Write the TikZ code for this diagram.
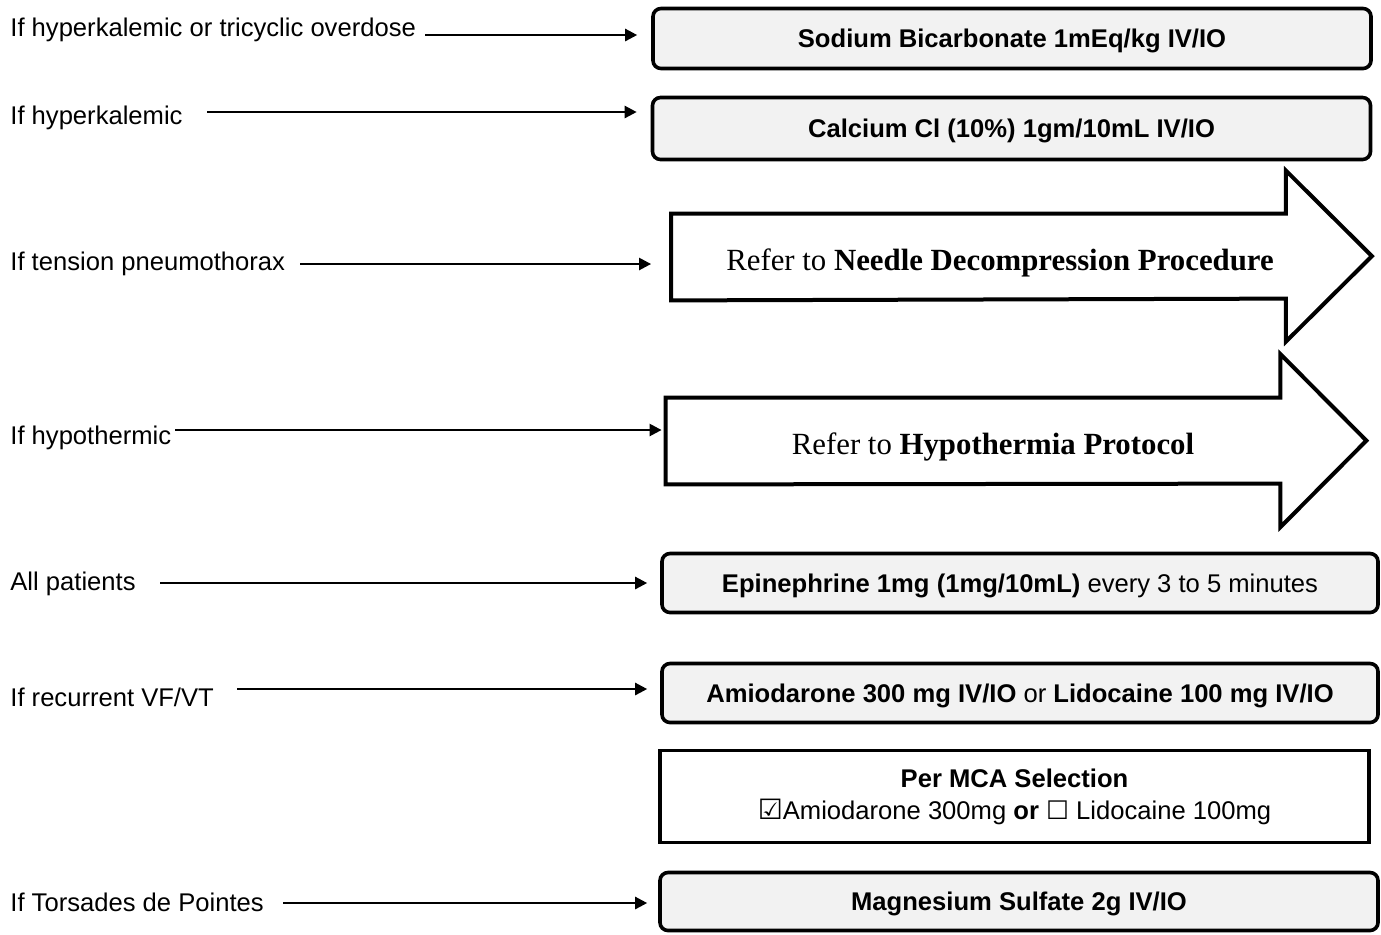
\documentclass[tikz,border=0pt]{standalone}
\usepackage{fontspec}
\setmainfont{Liberation Sans}
\newfontfamily\timesfont{Liberation Serif}
\newfontfamily\symfont{DejaVu Sans}
\usetikzlibrary{arrows.meta, positioning}
\tikzset{
every node/.style={inner sep=0pt}, % no padding, sizes are given directly
cond/.style={anchor=base west, font=\fontsize{12.8}{15}\selectfont}, % condition on the left
drug/.style={draw, line width=1.8pt, rounded corners=4pt, fill=gray!10,
  text height=9.2pt, text depth=0pt,
  font=\fontsize{12.8}{15}\selectfont\bfseries}, % medication box
choice/.style={draw, line width=1.8pt, fill=white,
  font=\fontsize{12.8}{16}\selectfont, align=center}, % selection box
refbody/.style={minimum width=307pt, minimum height=43pt}, % shaft of a big arrow
reftext/.style={font=\timesfont\fontsize{15.4}{18}\selectfont}, % text in a big arrow
bigarrow/.style={draw, line width=2pt, fill=white, line join=miter},
flow/.style={-{Triangle[length=6pt,width=6pt]}, line width=1.2pt}, % condition arrow
}

\begin{document}
\begin{tikzpicture}[x=0.5pt, y=-0.5pt]
\useasboundingbox (0,0) rectangle (1381,934);

% conditions
\node[cond] (c1) at (10,36) {If hyperkalemic or tricyclic overdose};
\node[cond] (c2) at (10,124) {If hyperkalemic};
\node[cond] (c3) at (10,270) {If tension pneumothorax};
\node[cond] (c4) at (10,444) {If hypothermic};
\node[cond] (c5) at (10,590) {All patients};
\node[cond] (c6) at (10,706) {If recurrent VF/VT};
\node[cond] (c7) at (10,911) {If Torsades de Pointes};

% treatments
\node[drug, minimum width=359pt, minimum height=30pt] (sodium) at (1012,38.5) {Sodium Bicarbonate 1mEq/kg IV/IO};
\node[drug, minimum width=359pt, minimum height=31pt] (calcium) at (1011.5,128.5) {Calcium Cl (10\%) 1gm/10mL IV/IO};

\node[refbody] (needle) at (978.5,257) {};
\draw[bigarrow] (needle.north west) -- (needle.north east) -- ++(0,-43) -- ++(86,85.5)
  -- ++(-86,85.5) -- ++(0,-43) -- (needle.south west) -- cycle;
\node[reftext] (needletxt) at (1000,263) {Refer to \textbf{Needle Decompression Procedure}};

\node[refbody] (hypo) at (973,441) {};
\draw[bigarrow] (hypo.north west) -- (hypo.north east) -- ++(0,-43.5) -- ++(86,86.5)
  -- ++(-86,86.5) -- ++(0,-43.5) -- (hypo.south west) -- cycle;
\node[reftext] (hypotxt) at (993,447) {Refer to \textbf{Hypothermia Protocol}};

\node[drug, minimum width=358pt, minimum height=29.5pt] (epi) at (1020,583) {Epinephrine 1mg (1mg/10mL) \mdseries every 3 to 5 minutes};
\node[drug, minimum width=358pt, minimum height=29.5pt] (amio) at (1020,693) {Amiodarone 300 mg IV/IO \mdseries or \bfseries Lidocaine 100 mg IV/IO};
\node[choice, minimum width=354.5pt, minimum height=46pt] (mca) at (1014.5,796.5)
  {\textbf{Per MCA Selection}\\{\symfont\fontsize{14}{16}\selectfont ☑}Amiodarone 300mg \textbf{or} {\symfont ☐} Lidocaine 100mg};
\node[drug, minimum width=359pt, minimum height=29pt] (mag) at (1019,901.5) {Magnesium Sulfate 2g IV/IO};

% arrows
\coordinate (s1) at (425,35);
\coordinate (s2) at (207,112);
\coordinate (s3) at (300,264);
\coordinate (s4) at (175,430);
\coordinate (s5) at (160,583);
\coordinate (s6) at (237,689);
\coordinate (s7) at (283,903);
\draw[flow, shorten >=7pt] (s1) -- (s1 -| sodium.west);
\draw[flow, shorten >=7pt] (s2) -- (s2 -| calcium.west);
\draw[flow, shorten >=10pt] (s3) -- (s3 -| needle.west);
\draw[flow, shorten >=2pt] (s4) -- (s4 -| hypo.west);
\draw[flow, shorten >=6.5pt] (s5) -- (s5 -| epi.west);
\draw[flow, shorten >=6.5pt] (s6) -- (s6 -| amio.west);
\draw[flow, shorten >=5.5pt] (s7) -- (s7 -| mag.west);
\end{tikzpicture}
\end{document}
